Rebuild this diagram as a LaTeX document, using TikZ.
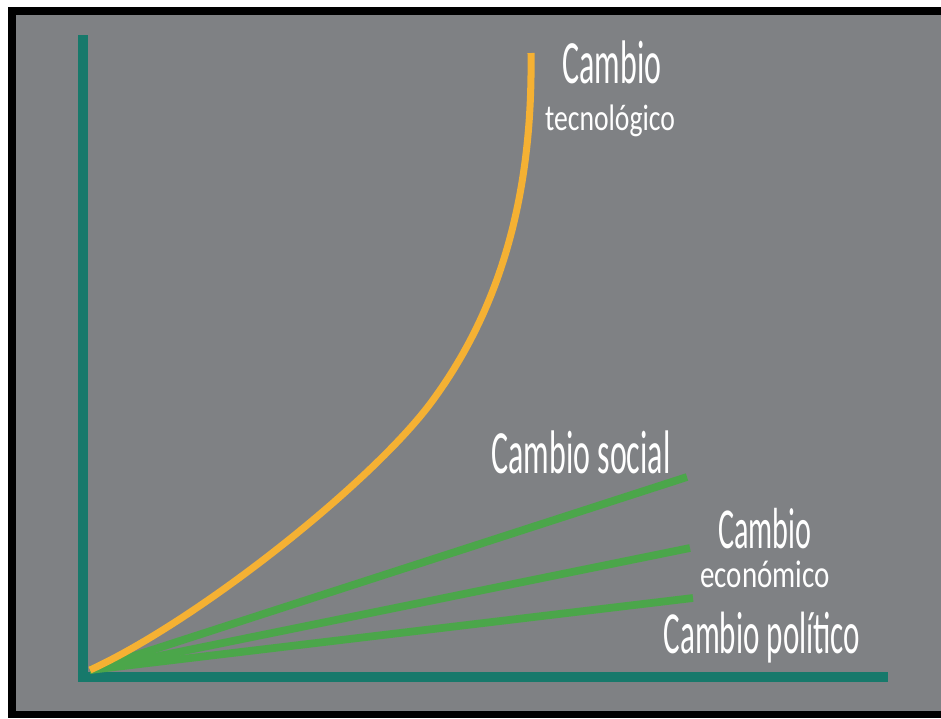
\documentclass[tikz,border=0pt]{standalone}
\usepackage{fontspec}
\newfontfamily\handfont[FakeStretch=0.52]{Carlito}
\newfontfamily\handwide[FakeStretch=0.75]{Carlito}
\definecolor{bggray}{HTML}{7F8184}
\definecolor{axisteal}{HTML}{17796B}
\definecolor{techorange}{HTML}{F5B133}
\definecolor{changegreen}{HTML}{4BA64A}

\begin{document}
\begin{tikzpicture}[x=0.02cm, y=-0.02cm,
    axis/.style={draw=axisteal, line width=5.7pt},
    trend/.style={draw=changegreen, line width=4.4pt},
    tag/.style={text=white, anchor=base, inner sep=0pt}]
  \useasboundingbox (0,0) rectangle (941,718);
  % frame and background
  \fill[white] (0,0) rectangle (941,718);
  \fill[black] (8,7) rectangle (941,718);
  \fill[bggray] (16,15) rectangle (941,711);

  % axes
  \coordinate (ytop) at (83,35);
  \coordinate (corner) at (83,677);
  \coordinate (xend) at (888,677);
  \draw[axis] (ytop) -- (corner) -- (xend);

  % line ends
  \coordinate (O) at (90,670);
  \coordinate (soc) at (687,477);
  \coordinate (eco) at (690,548);
  \coordinate (pol) at (693,598);
  \coordinate (mid) at (433,400);
  \coordinate (tec) at (531,53);

  \draw[trend] (O) -- (soc);
  \draw[trend] (O) -- (eco);
  \draw[trend] (O) -- (pol);
  \draw[techorange, line width=4pt] (O) .. controls (199,620) and (374,481) .. (mid)
    .. controls (498,311) and (533,200) .. (tec);

  % labels
  \node[tag, font=\handfont\fontsize{35}{35}\selectfont] (tec1) at (612,83) {Cambio};
  \node[tag, font=\handwide\fontsize{21}{21}\selectfont] (tec2) at (610,130) {tecnológico};
  \node[tag, font=\handfont\fontsize{35}{35}\selectfont] (socl) at (581,473) {Cambio social};
  \node[tag, font=\handfont\fontsize{33}{33}\selectfont] (eco1) at (765,548) {Cambio};
  \node[tag, font=\handwide\fontsize{22}{22}\selectfont] (eco2) at (765,587) {económico};
  \node[tag, font=\handfont\fontsize{34}{34}\selectfont] (poll) at (762,653) {Cambio político};
\end{tikzpicture}
\end{document}
